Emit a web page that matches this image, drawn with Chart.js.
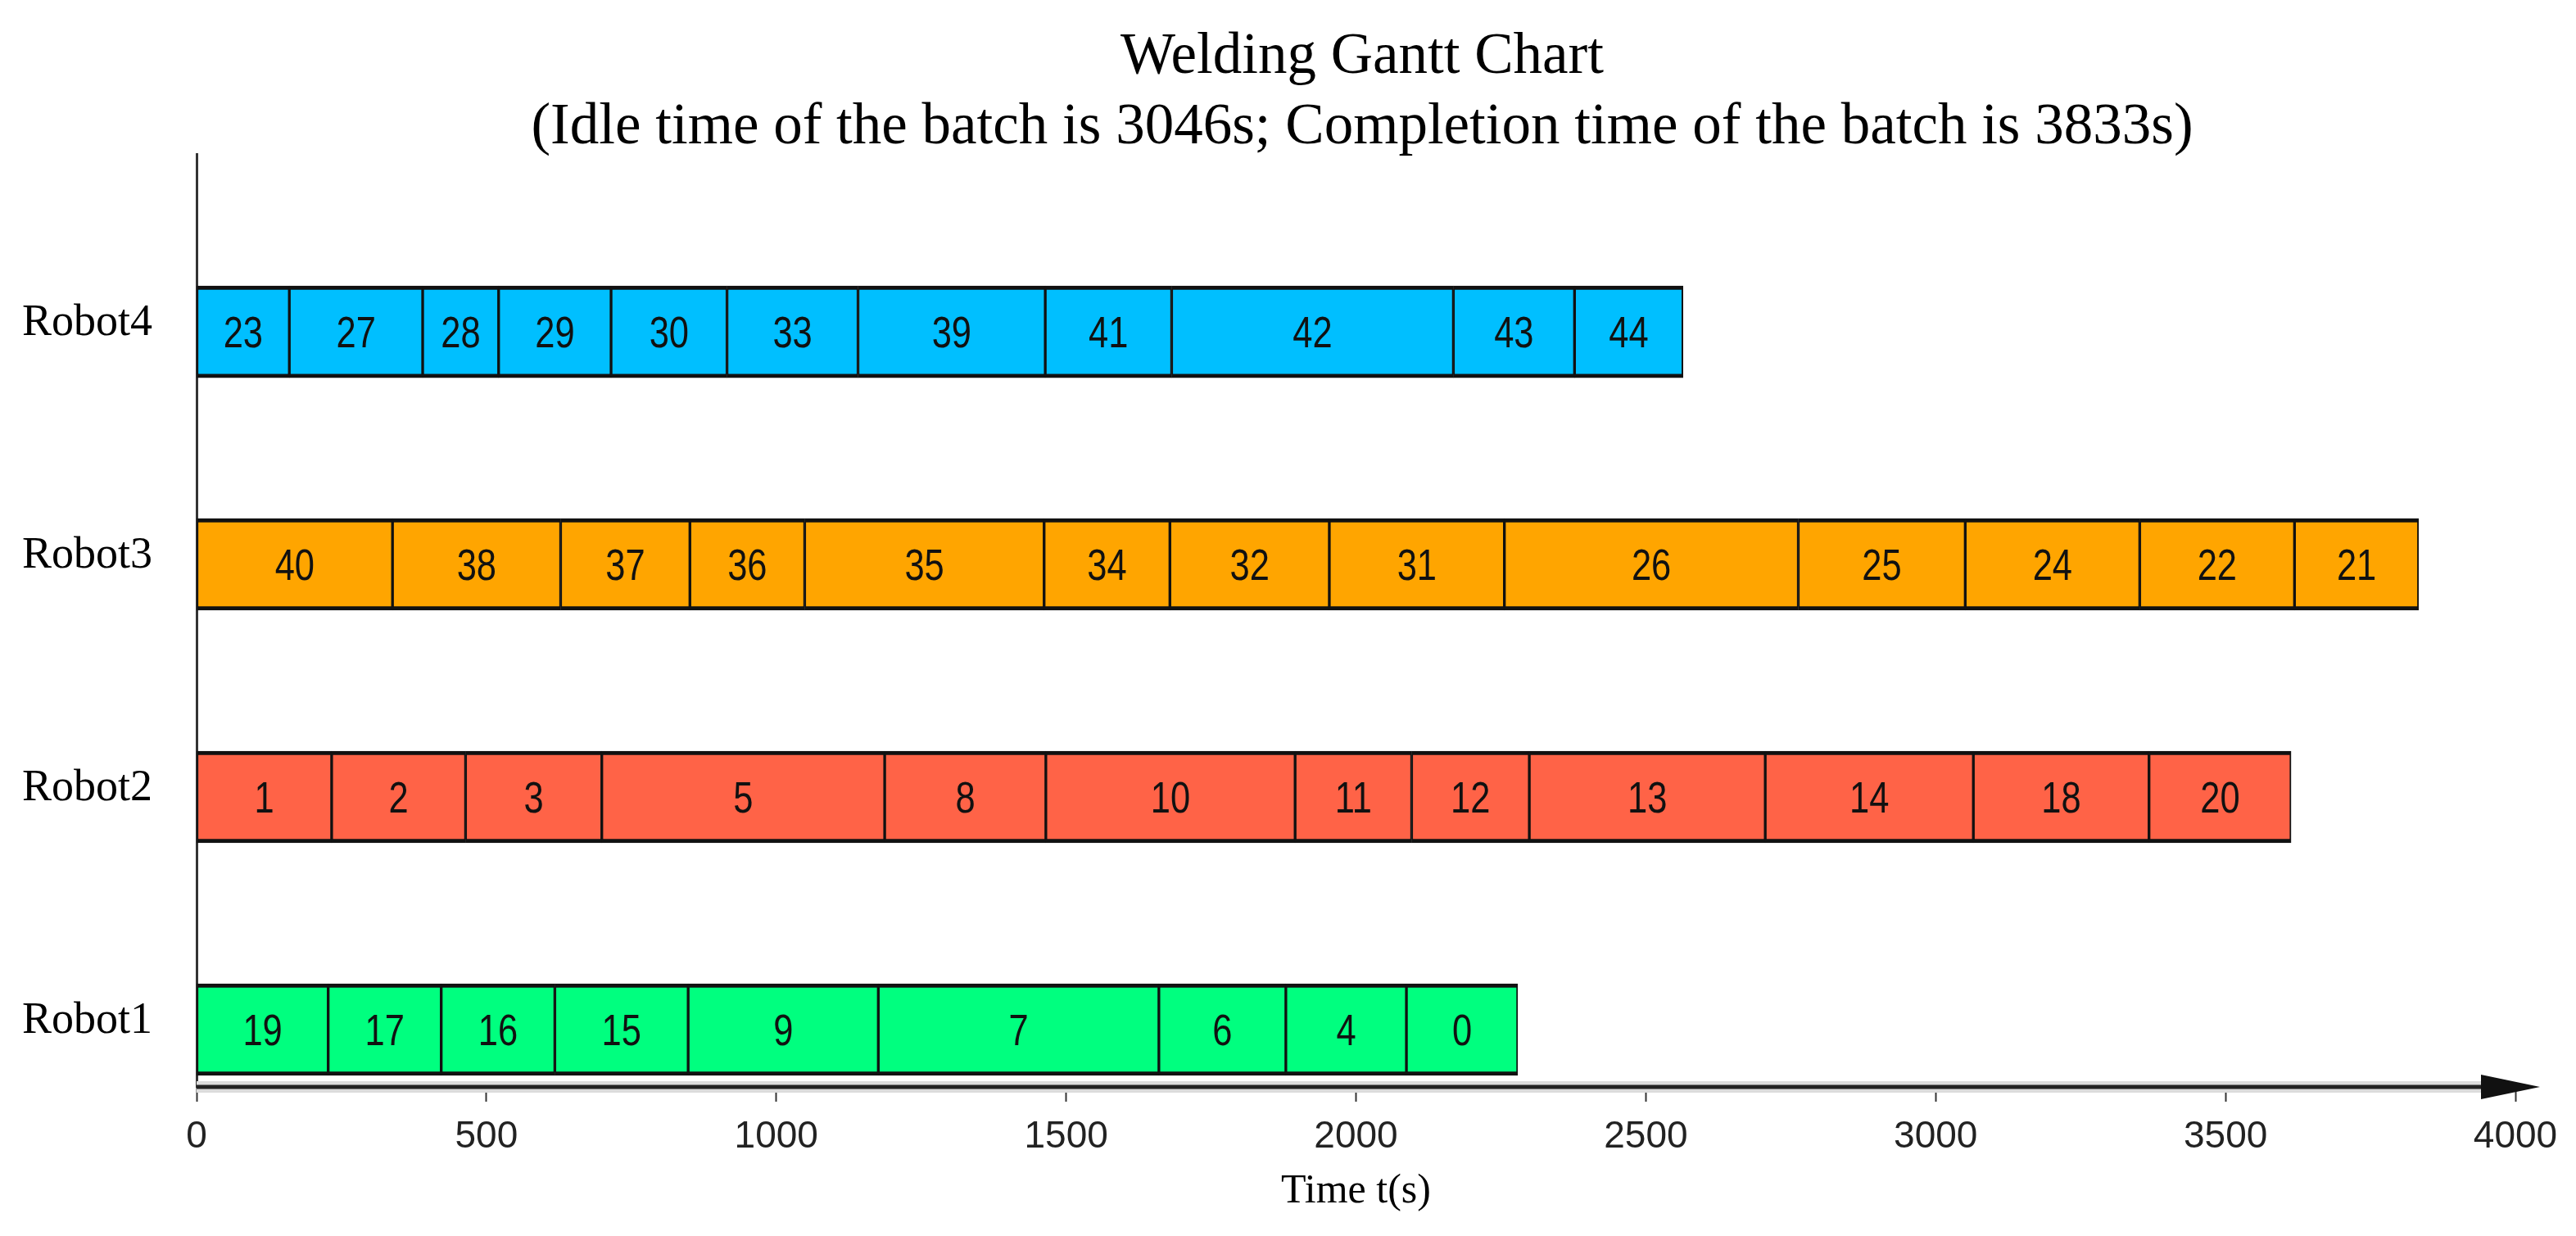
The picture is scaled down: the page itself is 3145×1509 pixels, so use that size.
<!DOCTYPE html>
<html>
<head>
<meta charset="utf-8">
<title>Welding Gantt Chart</title>
<script src="https://cdn.jsdelivr.net/npm/chart.js@4.4.1/dist/chart.umd.min.js"></script>
<style>
    html, body { margin: 0; padding: 0; background: #fff; }
    #wrap { width: 3145px; height: 1509px; position: relative; }
</style>
</head>
<body>
<div id="wrap"><canvas id="gantt"></canvas></div>
<script>
// rows, bottom to top
const robots = ['Robot1', 'Robot2', 'Robot3', 'Robot4'];
const robotColors = ['#00FF7F', '#FF6347', '#FFA500', '#00BFFF'];

// weld task ids in order, and how long each one took (s)
const robot1Tasks = [19, 17, 16, 15, 9, 7, 6, 4, 0];
const robot1Durations = [227, 195, 196, 230, 328, 484, 219, 208, 192];

const robot2Tasks = [1, 2, 3, 5, 8, 10, 11, 12, 13, 14, 18, 20];
const robot2Durations = [233, 231, 235, 488, 278, 430, 201, 203, 407, 359, 303, 245];

const robot3Tasks = [40, 38, 37, 36, 35, 34, 32, 31, 26, 25, 24, 22, 21];
const robot3Durations = [338, 290, 223, 198, 413, 217, 275, 302, 507, 288, 301, 267, 214];

const robot4Tasks = [23, 27, 28, 29, 30, 33, 39, 41, 42, 43, 44];
const robot4Durations = [160, 230, 131, 194, 200, 226, 323, 218, 486, 209, 187];

const timeTicks = [0, 500, 1000, 1500, 2000, 2500, 3000, 3500, 4000];

const titleLines = [
    'Welding Gantt Chart',
    '(Idle time of the batch is 3046s; Completion time of the batch is 3833s)'
];

const serif = "'Liberation Serif', 'Times New Roman', serif";
const sans = "'Liberation Sans', Arial, sans-serif";

function buildRow(row, tasks, durations) {
    let t = 0;
    return tasks.map((task, i) => {
        const seg = { x: [t, t + durations[i]], y: row, task: task };
        t += durations[i];
        return seg;
    });
}

const rows = [
    [robot1Tasks, robot1Durations],
    [robot2Tasks, robot2Durations],
    [robot3Tasks, robot3Durations],
    [robot4Tasks, robot4Durations]
];

const datasets = rows.map((r, i) => ({
    label: robots[i],
    data: buildRow(i + 1, r[0], r[1]),
    backgroundColor: robotColors[i],
    borderColor: '#111',
    borderWidth: { top: 5, bottom: 5, left: 2, right: 2 },
    borderSkipped: false,
    barThickness: 112,
    grouped: false
}));

// task number in the middle of each block (narrow, like the original)
const taskLabels = {
    id: 'taskLabels',
    afterDatasetsDraw(chart) {
        const ctx = chart.ctx;
        ctx.save();
        ctx.font = `53px ${sans}`;
        ctx.fillStyle = '#111';
        ctx.textAlign = 'center';
        ctx.textBaseline = 'alphabetic';
        chart.data.datasets.forEach((ds, di) => {
            chart.getDatasetMeta(di).data.forEach((bar, i) => {
                const { x, y, base } = bar.getProps(['x', 'y', 'base'], true);
                ctx.save();
                ctx.translate((x + base) / 2, y + 19);
                ctx.scale(0.82, 1);
                ctx.fillText(String(ds.data[i].task), 0, 0);
                ctx.restore();
            });
        });
        ctx.restore();
    }
};

// title centred over the plot rather than the whole canvas
const titleShift = {
    id: 'titleShift',
    afterLayout(chart) {
        if (chart.titleBlock) chart.titleBlock.left = 181;
    }
};

// time axis with arrow head
const timeAxis = {
    id: 'timeAxis',
    afterDraw(chart) {
        const { ctx, chartArea, scales } = chart;
        const y = chartArea.bottom;
        const tip = scales.x.getPixelForValue(4000) + 30;
        ctx.save();
        ctx.lineCap = 'butt';
        ctx.strokeStyle = '#dcdcdc';
        ctx.lineWidth = 14;
        ctx.beginPath();
        ctx.moveTo(chartArea.left, y);
        ctx.lineTo(tip - 60, y);
        ctx.stroke();
        ctx.strokeStyle = '#222';
        ctx.lineWidth = 5;
        ctx.beginPath();
        ctx.moveTo(chartArea.left, y);
        ctx.lineTo(tip - 40, y);
        ctx.stroke();
        ctx.fillStyle = '#111';
        ctx.beginPath();
        ctx.moveTo(tip - 72, y - 15);
        ctx.lineTo(tip, y);
        ctx.lineTo(tip - 72, y + 15);
        ctx.closePath();
        ctx.fill();
        ctx.restore();
    }
};

new Chart(document.getElementById('gantt'), {
    type: 'bar',
    data: { datasets: datasets },
    plugins: [taskLabels, titleShift, timeAxis],
    options: {
        indexAxis: 'y',
        responsive: true,
        maintainAspectRatio: false,
        animation: false,
        layout: { padding: 0 },
        plugins: {
            legend: { display: false },
            tooltip: { enabled: false },
            title: {
                display: true,
                text: titleLines,
                color: '#000',
                font: { family: serif, size: 71, weight: 'normal', lineHeight: 1.212 },
                padding: { top: 27, bottom: -11 }
            }
        },
        scales: {
            x: {
                type: 'linear',
                position: 'bottom',
                min: 0,
                max: 4000,
                afterBuildTicks: (scale) => {
                    scale.ticks = timeTicks.map(v => ({ value: v }));
                },
                afterFit: (scale) => {
                    scale.height = 182;
                    scale.paddingRight = 74;
                },
                grid: {
                    display: true,
                    drawOnChartArea: false,
                    drawTicks: true,
                    tickLength: 18,
                    tickWidth: 2,
                    tickColor: '#333'
                },
                border: { display: false },
                ticks: {
                    color: '#222',
                    font: { family: sans, size: 46 },
                    padding: 16,
                    maxRotation: 0,
                    callback: (v) => String(v)
                },
                title: {
                    display: true,
                    text: 'Time t(s)',
                    color: '#000',
                    font: { family: serif, size: 50, lineHeight: 1.2 },
                    padding: { top: 0, bottom: 24 }
                }
            },
            y: {
                type: 'linear',
                offset: false,
                min: 0.7535,
                max: 4.764,
                afterBuildTicks: (scale) => {
                    scale.ticks = robots.map((r, i) => ({ value: i + 1 }));
                },
                afterFit: (scale) => {
                    scale.width = 240;
                },
                grid: { display: false, drawTicks: false, offset: false },
                border: { display: true, color: '#333', width: 3 },
                ticks: {
                    color: '#000',
                    font: { family: serif, size: 54 },
                    padding: 54,
                    labelOffset: -10,
                    callback: (v) => robots[v - 1] || ''
                }
            }
        }
    }
});
</script>
</body>
</html>
